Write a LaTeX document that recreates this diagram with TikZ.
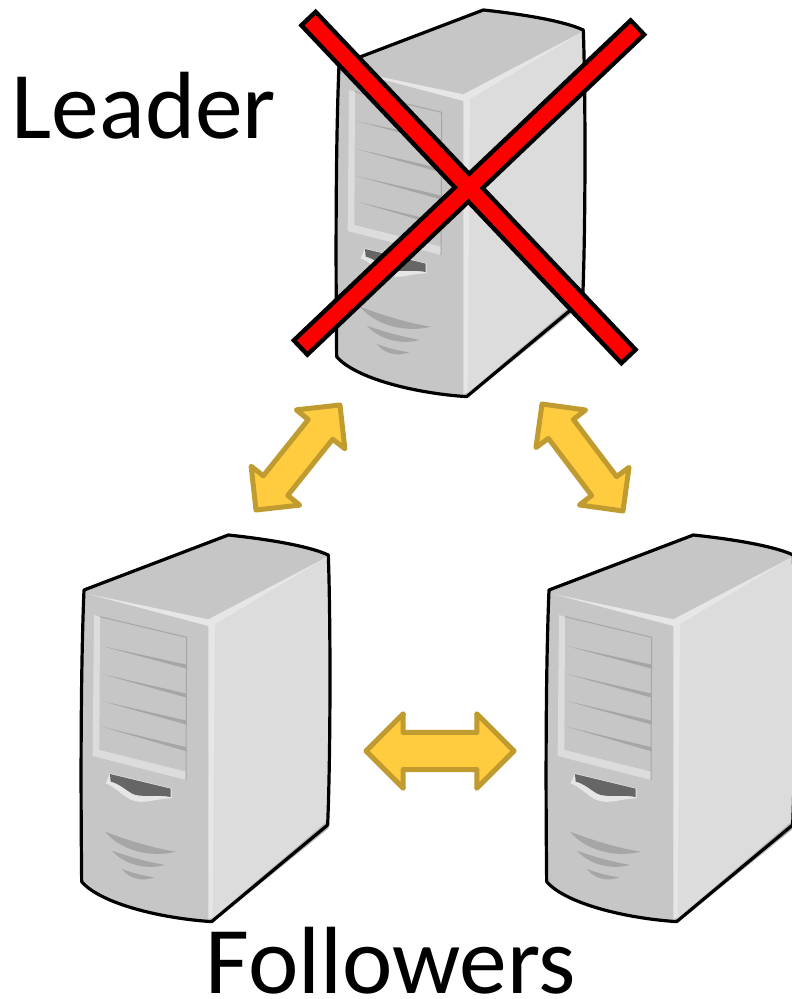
\documentclass[tikz,border=0pt]{standalone}
\usepackage{fontspec}
\setmainfont{Carlito}
\usetikzlibrary{calc}
\definecolor{towerfront}{HTML}{C6C6C6}
\definecolor{towerside}{HTML}{DCDCDC}
\definecolor{towerlight}{HTML}{E6E6E6}
\definecolor{towerslot}{HTML}{A6A6A6}
\definecolor{towerdark}{HTML}{666666}
\definecolor{syncfill}{HTML}{FFCC40}
\definecolor{syncedge}{HTML}{BF9B30}
% one tower, shifted to (#1,#2), inner coordinates are 3 times the picture's
\newcommand{\ServerTower}[2]{
  \begin{scope}[shift={(#1,#2)},x=0.3333pt,y=-0.3333pt]
    \fill[towerfront] (72,210) -- (505,45) .. controls (600,55) and (740,75) .. (805,105) .. controls (812,300) and (812,700) .. (803,915) -- (455,1205) .. controls (300,1195) and (120,1150) .. (65,1085) .. controls (62,800) and (62,450) .. (72,210) -- cycle;
    \fill[towerside] (450,305) -- (803,110) .. controls (810,300) and (810,700) .. (800,912) -- (455,1200) -- cycle;
    % light edges of the case
    \fill[towerlight] (85,222) -- (445,298) -- (800,112) -- (465,312) -- (458,1190) -- (445,1198) -- (445,318) -- cycle;
    \fill[towerslot!70!towerside] (800,905) -- (455,1198) -- (480,1190) -- (806,925) -- cycle;
    % drive bay
    \fill[towerside] (102,285) -- (120,290) -- (118,690) -- (378,755) -- (378,780) -- (98,708) -- cycle;
    \draw[towerslot,line width=1pt] (120,290) -- (380,352) -- (378,780);
    \foreach \ya/\yb in {378/440,462/527,543/608,620/688}
      \fill[towerslot] (125,\ya) -- (380,\yb-6) -- (380,\yb+6) -- cycle;
    % handle
    \fill[towerlight] (137,790) -- (150,760) -- (335,805) -- (335,835) .. controls (290,835) and (250,855) .. (215,840) .. controls (190,830) and (165,800) .. (137,790) -- cycle;
    \fill[towerdark] (150,762) -- (332,806) -- (332,831) .. controls (290,822) and (240,835) .. (215,820) .. controls (195,808) and (175,790) .. (152,785) -- cycle;
    % vents
    \fill[towerslot] (135,935) .. controls (180,990) and (270,1015) .. (348,995) .. controls (280,985) and (200,960) .. (135,935) -- cycle;
    \fill[towerslot] (155,992) .. controls (195,1035) and (260,1050) .. (315,1035) .. controls (260,1025) and (205,1010) .. (155,992) -- cycle;
    \fill[towerslot] (185,1047) .. controls (210,1078) and (250,1085) .. (283,1072) .. controls (250,1068) and (215,1058) .. (185,1047) -- cycle;
    \draw[line width=3.2pt,line join=round] (72,210) -- (505,45) .. controls (600,55) and (740,75) .. (805,105) .. controls (812,300) and (812,700) .. (803,915) -- (455,1205) .. controls (300,1195) and (120,1150) .. (65,1085) .. controls (62,800) and (62,450) .. (72,210) -- cycle;
  \end{scope}
}
\begin{document}
\begin{tikzpicture}[x=1pt,y=-1pt,
    bigtext/.style={font=\fontsize{95.5}{95.5}\selectfont,anchor=base,inner sep=0pt},
    syncarrow/.style 2 args={draw=syncedge,fill=syncfill,line width=5pt,line join=round,
      to path={
        -- ($(\tikztostart)!#1!45:(\tikztotarget)$)
        -- ($(\tikztostart)!#2!26.6:(\tikztotarget)$)
        -- ($(\tikztotarget)!#2!-26.6:(\tikztostart)$)
        -- ($(\tikztotarget)!#1!-45:(\tikztostart)$)
        -- (\tikztotarget)
        -- ($(\tikztotarget)!#1!45:(\tikztostart)$)
        -- ($(\tikztotarget)!#2!26.6:(\tikztostart)$)
        -- ($(\tikztostart)!#2!-26.6:(\tikztotarget)$)
        -- ($(\tikztostart)!#1!-45:(\tikztotarget)$)
        -- cycle}},
    crossedge/.style={line width=24pt},
    crossred/.style={red,line width=15pt,shorten >=4.5pt,shorten <=4.5pt}]
  \useasboundingbox (0,0) rectangle (792,999);
  \ServerTower{315}{-5}
  \ServerTower{60}{520}
  \ServerTower{525}{520}
  \node[bigtext] (leader) at (144,138) {Leader};
  \node[bigtext] (followers) at (391,993) {Followers};
  % the cross over the first tower
  \coordinate (crossnw) at (307,17);
  \coordinate (crossse) at (630,358);
  \coordinate (crossne) at (639,26);
  \coordinate (crosssw) at (299,349);
  \draw[crossedge] (crossnw) -- (crossse);
  \draw[crossedge] (crossne) -- (crosssw);
  \draw[crossred] (crossnw) -- (crossse);
  \draw[crossred] (crossne) -- (crosssw);
  % links between the towers
  \coordinate (leaderw) at (340,405);
  \coordinate (leadere) at (542,404);
  \coordinate (followaup) at (256,510);
  \coordinate (followbup) at (623,511);
  \coordinate (followaside) at (366,751);
  \coordinate (followbside) at (514,751);
  \draw[syncarrow={44pt}{35pt}] (leaderw) to (followaup);
  \draw[syncarrow={44pt}{35pt}] (leadere) to (followbup);
  \draw[syncarrow={52.7pt}{41.4pt}] (followaside) to (followbside);
\end{tikzpicture}
\end{document}
